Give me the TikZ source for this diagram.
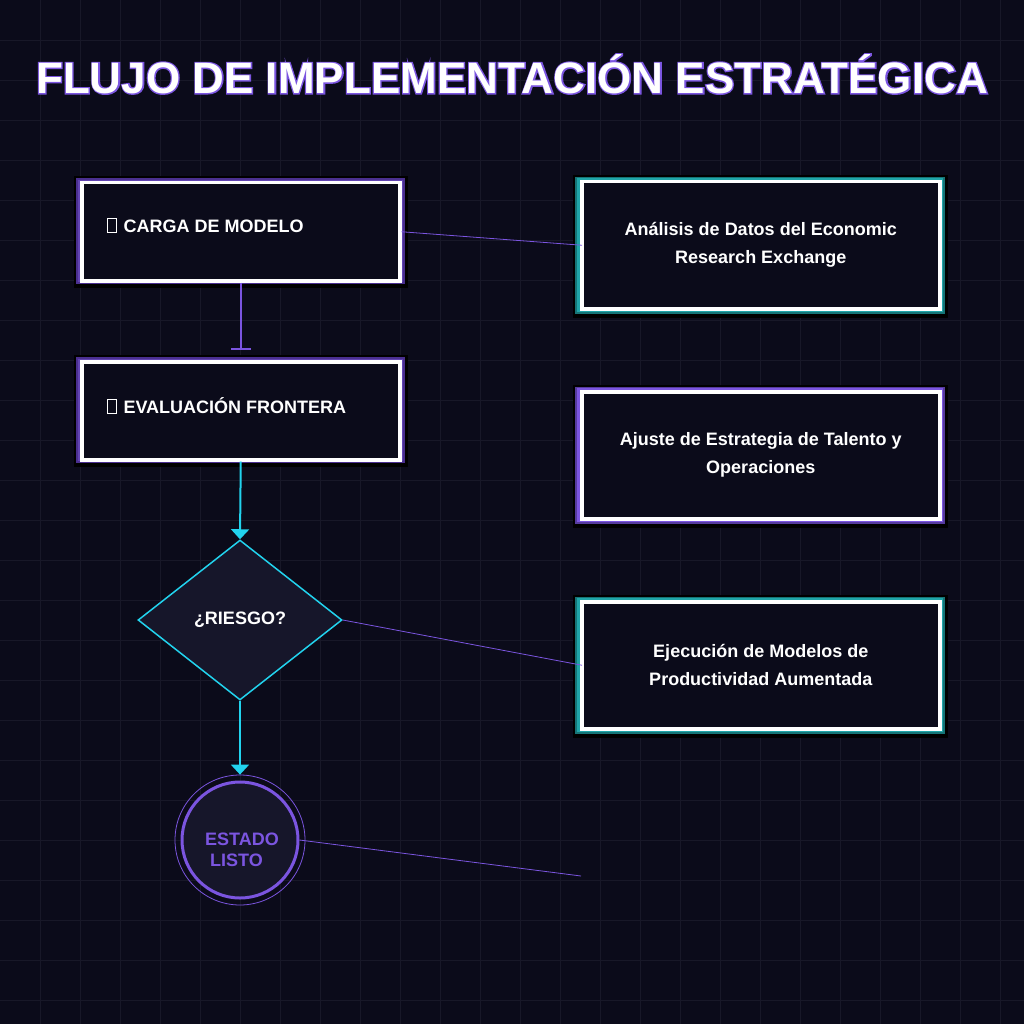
\documentclass[tikz,border=0pt]{standalone}
\usepackage{fontspec}
\setmainfont{Liberation Sans}
\usetikzlibrary{arrows.meta,shapes.geometric,calc}
\definecolor{bg}{HTML}{0B0B1A}
\definecolor{gridc}{HTML}{181828}
\definecolor{purp}{HTML}{7B55E0}
\definecolor{purpd}{HTML}{4A2F8F}
\definecolor{teal}{HTML}{1FA5A8}
\definecolor{cyanc}{HTML}{22D3EE}
\definecolor{fillc}{HTML}{16162A}
\tikzset{
 box/.style={draw=white,line width=3.5pt,fill=bg,minimum width=318pt,minimum height=98pt,anchor=north west},
 rbox/.style={draw=white,line width=3.5pt,fill=bg,minimum width=358pt,minimum height=127pt,anchor=north west,align=center,font=\bfseries\fontsize{18}{28}\selectfont,text=white},
 lbl/.style={text=white,font=\bfseries\fontsize{18}{19}\selectfont,anchor=west},
 thin/.style={draw=purp,line width=0.8pt},
 cyarrow/.style={draw=cyanc,line width=2pt,-{Triangle[width=18pt,length=10pt]}},
}
\begin{document}
\begin{tikzpicture}[x=1pt,y=-1pt]
\fill[bg] (0,0) rectangle (1024,1024);
\useasboundingbox (0,0) rectangle (1024,1024);
\foreach \i in {40,80,...,1000}{\draw[gridc,line width=0.8pt] (\i,0)--(\i,1024); \draw[gridc,line width=0.8pt] (0,\i)--(1024,\i);}
% title
\node[font=\bfseries\fontsize{44}{50}\selectfont,text=white,draw=none] (title) at (512,74) {\pgfsetstrokecolor{purp}\pgfsetlinewidth{2.5pt}\special{pdf:literal 2 Tr}FLUJO DE IMPLEMENTACIÓN ESTRATÉGICA\special{pdf:literal 0 Tr}};
\node[font=\bfseries\fontsize{44}{50}\selectfont,text=white] at (512,74) {FLUJO DE IMPLEMENTACIÓN ESTRATÉGICA};
% left boxes frames
\foreach \y in {176,355}{\fill[black] (74,\y) rectangle (408,\y+112); \fill[purpd] (76,\y+2) rectangle (405,\y+108); \fill[purp!80!black] (78,\y+4) rectangle (403,\y+106);}
\node[box] (b1) at (80,181) {};
\node[box] (b2) at (80,360) {};
\draw[white,line width=1pt] (107,219) rectangle (116,233);
\node[lbl] at (120,226) {CARGA DE MODELO};
\draw[white,line width=1pt] (107,399) rectangle (116,413);
\node[lbl] at (120,406) {EVALUACIÓN FRONTERA};
% right boxes frames
\foreach \y/\c in {175/teal,385/purp,595/teal}{\fill[black] (573,\y) rectangle (948,\y+143); \fill[\c!70!black] (575,\y+2) rectangle (945,\y+139); \fill[\c] (577,\y+3) rectangle (943,\y+137);}
\node[rbox] (r1) at (580,180) {Análisis de Datos del Economic\\Research Exchange};
\node[rbox] (r2) at (580,390) {Ajuste de Estrategia de Talento y\\Operaciones};
\node[rbox] (r3) at (580,600) {Ejecución de Modelos de\\Productividad Aumentada};
% diamond
\node[diamond,draw=cyanc,fill=fillc,line width=1.5pt,minimum width=204pt,minimum height=160pt,inner sep=0pt,text=white,font=\bfseries\fontsize{18}{19}\selectfont] (d) at (240,620) {¿RIESGO?};
% circle
\node[circle,draw=purp,line width=0.8pt,minimum size=130pt] (co) at (240,840) {};
\node[circle,draw=purp,line width=3pt,fill=fillc,minimum size=116pt] (c) at (240,840) {};
\node[align=left,text=purp,font=\bfseries\fontsize{18}{21}\selectfont] at (242,850) {ESTADO\\\ LISTO};
\coordinate (free) at (581,876);
% connectors
\draw[thin] (b1.east) -- ($(r1.west)+(2,0)$);
\draw[purp,line width=2pt,-{Bar[width=20pt]}] (b1.south) -- ($(b2.north)+(0,-10)$);
\draw[cyarrow] (b2.south) -- (d.north);
\draw[thin] (d.east) -- ($(r3.west)+(2,0)$);
\draw[cyarrow] (d.south) -- (co.north);
\draw[thin] (c.east) -- (free);
\end{tikzpicture}
\end{document}
